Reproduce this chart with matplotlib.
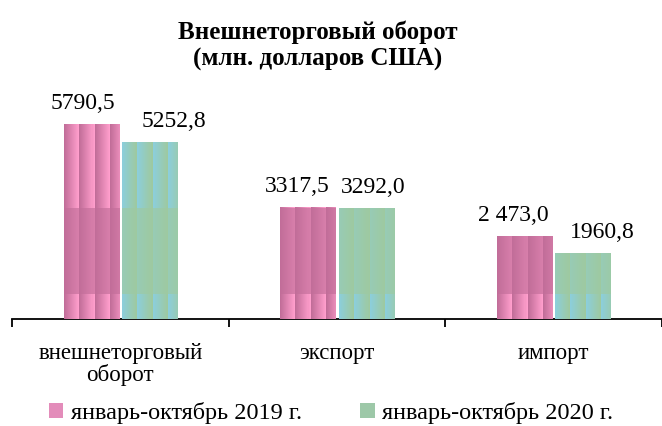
import matplotlib.pyplot as plt
import numpy as np
from matplotlib.patches import Patch

plt.rcParams['font.family'] = ['Liberation Serif', 'DejaVu Serif']

categories = ["внешнеторговый\nоборот", "экспорт", "импорт"]
vals_2019 = [5790.5, 3317.5, 2473.0]
vals_2020 = [5252.8, 3292.0, 1960.8]
labels_2019 = ["5790,5", "3317,5", "2 473,0"]
labels_2020 = ["5252,8", "3292,0", "1960,8"]
series_names = ["январь-октябрь 2019 г.", "январь-октябрь 2020 г."]

# label shifts (pixels) the way they sit in the original
dx_2019 = [-8, -10, -11]
dx_2020 = [24, 7, 19]


def texture(w, h, kind):
    xs = np.arange(w)
    ys = np.arange(h)[::-1]  # distance from the bar bottom
    t = (xs % 15) / 14.0
    bright = (((ys + 60) // 85) % 2 == 0).astype(float)
    s = 0.35 + 0.65 * bright
    if kind == "pink":
        dark = np.array([0.76, 0.43, 0.60])
        light = np.array([1.00, 0.62, 0.80])
        mix = t[None, :] * s[:, None]
    else:
        dark = np.array([0.62, 0.79, 0.63])
        light = np.array([0.55, 0.81, 0.86])
        mix = (1 - t[None, :]) * s[:, None]
    return dark + (light - dark) * mix[..., None]


fig = plt.figure(figsize=(6.62, 4.26), dpi=100)
ax = fig.add_axes([12 / 662, 1 - 319 / 426, 650 / 662, 218 / 426])

x = np.arange(len(categories))
width = 0.254
b1 = ax.bar(x - 0.135, vals_2019, width, color="#D47FAE", zorder=2)
b2 = ax.bar(x + 0.135, vals_2020, width, color="#9CC8A2", zorder=2)

ax.set_xlim(-0.5, 2.5)
ax.set_ylim(0, 6500)

for bars, kind in [(b1, "pink"), (b2, "green")]:
    for p in bars:
        x0, w, h = p.get_x(), p.get_width(), p.get_height()
        (px0, py0), (px1, py1) = ax.transData.transform([(x0, 0), (x0 + w, h)])
        img = texture(max(int(round(px1 - px0)), 1), max(int(round(py1 - py0)), 1), kind)
        ax.imshow(img, extent=(x0, x0 + w, 0, h), aspect="auto",
                  interpolation="nearest", zorder=3)

ax.set_xlim(-0.5, 2.5)
ax.set_ylim(0, 6500)

for bars, labs, dxs in [(b1, labels_2019, dx_2019), (b2, labels_2020, dx_2020)]:
    for p, lab, dx in zip(bars, labs, dxs):
        ax.annotate(lab, (p.get_x() + p.get_width() / 2, p.get_height()),
                    xytext=(dx, 21), textcoords="offset pixels",
                    ha="center", va="center", fontsize=17)

for s in ["top", "right", "left"]:
    ax.spines[s].set_visible(False)
ax.spines["bottom"].set_linewidth(1.3)
ax.set_yticks([])
ax.set_xticks(x)
ax.set_xticklabels(categories, fontsize=16.5, linespacing=1.0)
ax.tick_params(axis="x", which="major", length=0, pad=17)
ax.set_xticks([-0.5, 0.5, 1.5, 2.5], minor=True)
ax.tick_params(axis="x", which="minor", length=6, width=1.3, direction="out")

fig.text(0.48, 1 - 46 / 426, "Внешнеторговый оборот\n(млн. долларов США)",
         ha="center", va="center", fontsize=18, fontweight="bold", linespacing=1.2)

handles = [Patch(facecolor="#E38CBA"), Patch(facecolor="#9DC8A8")]
fig.legend(handles, series_names, loc="center", bbox_to_anchor=(0.5, 1 - 413 / 426),
           ncol=2, frameon=False, fontsize=17.5, handlelength=0.6, handleheight=0.6,
           handletextpad=0.3, columnspacing=2.4)

fig.savefig("out.png", dpi=100)
